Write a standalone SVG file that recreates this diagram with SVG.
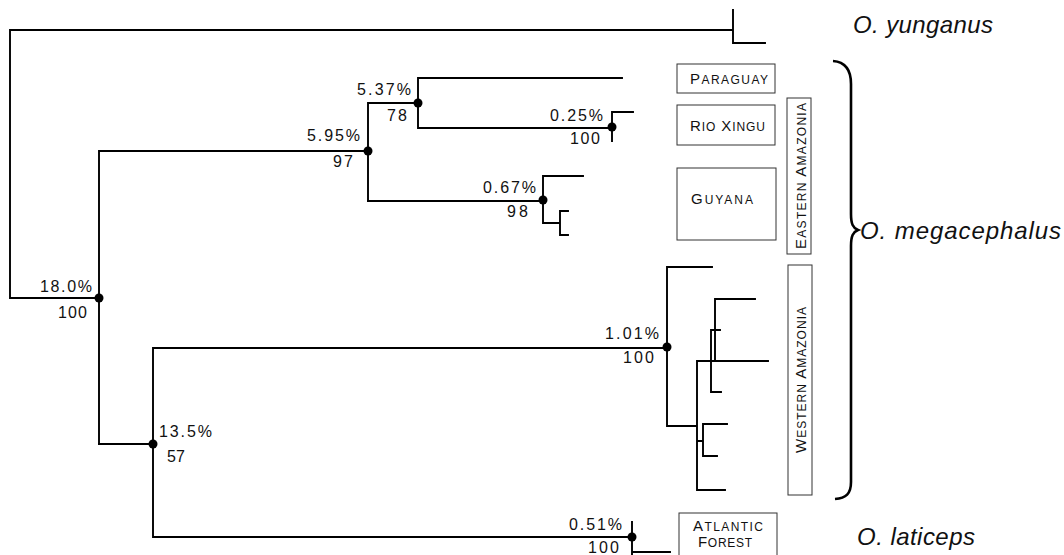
<svg xmlns="http://www.w3.org/2000/svg" width="1064" height="555" viewBox="0 0 1064 555">
<style>
.br{fill:none;stroke:#000;stroke-width:1.9;stroke-linecap:square}
.nd{fill:#000}
.num{font-family:"Liberation Sans",Arial,Helvetica,sans-serif;font-size:16px;fill:#111}
.box{fill:#fff;stroke:#333;stroke-width:1}
.lab{font-family:"Liberation Sans",Arial,Helvetica,sans-serif;font-size:15px;fill:#111}
.sc{font-size:12px}
.sp{font-family:"Liberation Sans",Arial,Helvetica,sans-serif;font-style:italic;font-size:24px;fill:#111}
</style>
<rect width="1064" height="555" fill="#fff"/>
<g id="connectors">
<path class="br" d="M733,30 H10 V298 H99 M733,10 V43 H765"/>
<path class="br" d="M99,151 V444 M99,151 H368 M368,103 V201 M368,103 H418 M418,78 V128 M418,78 H622 M418,128 H612 M612,112 V141 M612,112 H633"/>
<path class="br" d="M368,201 H543 M543,176 V223 M543,176 H583 M543,223 H560 M560,211 V235 M560,211 H568 M560,235 H568"/>
<path class="br" d="M99,444 H153 M153,348 V537 M153,348 H667 M153,537 H632 M632,522 V556 M632,552 H670"/>
<path class="br" d="M667,267 V426 M667,267 H712 M667,426 H697 M697,361 V490 M697,361 H768 M697,490 H725 M715,299 V361 M715,299 H755 M711,330 V392 M711,330 H720 M711,392 H721 M697,441 H703 M703,424 V456 M703,424 H727 M703,456 H717"/>
<path d="M833,61 C846,62 851,70 851,84 V214 C851,224 853,228 858,230 C853,232 851,236 851,246 V482 C851,494 846,498 835,499" fill="none" stroke="#000" stroke-width="2.6"/>
</g>
<g id="n-root"><circle class="nd" cx="99" cy="298" r="4.5"/><text class="num" x="40" y="292" textLength="52">18.0%</text><text class="num" x="58" y="318" textLength="29">100</text></g>
<g id="n-595"><circle class="nd" cx="368" cy="151" r="4.5"/><text class="num" x="307" y="141" textLength="53">5.95%</text><text class="num" x="333" y="167" textLength="20">97</text></g>
<g id="n-537"><circle class="nd" cx="418" cy="103" r="4.5"/><text class="num" x="357" y="95" textLength="54">5.37%</text><text class="num" x="387" y="121" textLength="20">78</text></g>
<g id="n-025"><circle class="nd" cx="612" cy="127" r="4.5"/><text class="num" x="550" y="121" textLength="53">0.25%</text><text class="num" x="570" y="144" textLength="30">100</text></g>
<g id="n-067"><circle class="nd" cx="543" cy="200" r="4.5"/><text class="num" x="483" y="193" textLength="53">0.67%</text><text class="num" x="507" y="217" textLength="21">98</text></g>
<g id="n-135"><circle class="nd" cx="153" cy="444" r="4.5"/><text class="num" x="159" y="437" textLength="53">13.5%</text><text class="num" x="167" y="462" textLength="18">57</text></g>
<g id="n-101"><circle class="nd" cx="667" cy="347" r="4.5"/><text class="num" x="605" y="339" textLength="54">1.01%</text><text class="num" x="623" y="363" textLength="31">100</text></g>
<g id="n-051"><circle class="nd" cx="632" cy="537" r="4.5"/><text class="num" x="569" y="530" textLength="53">0.51%</text><text class="num" x="588" y="553" textLength="31">100</text></g>
<g id="paraguay"><rect class="box" x="677" y="64" width="98" height="29"/><text class="lab" x="690" y="84" textLength="78">P<tspan class="sc">ARAGUAY</tspan></text></g>
<g id="rio-xingu"><rect class="box" x="677" y="105" width="98" height="40"/><text class="lab" x="690" y="131" textLength="75">R<tspan class="sc">IO</tspan> X<tspan class="sc">INGU</tspan></text></g>
<g id="guyana"><rect class="box" x="677" y="168" width="99" height="72"/><text class="lab" x="691" y="204" textLength="62">G<tspan class="sc">UYANA</tspan></text></g>
<g id="eastern-amazonia"><rect class="box" x="787" y="98" width="24" height="156"/><text class="lab" transform="translate(806,176) rotate(-90)" text-anchor="middle" textLength="146">E<tspan class="sc">ASTERN</tspan>  A<tspan class="sc">MAZONIA</tspan></text></g>
<g id="western-amazonia"><rect class="box" x="788" y="265" width="24" height="230"/><text class="lab" transform="translate(806,380) rotate(-90)" text-anchor="middle" textLength="146">W<tspan class="sc">ESTERN</tspan>  A<tspan class="sc">MAZONIA</tspan></text></g>
<g id="atlantic-forest"><rect class="box" x="679" y="513" width="98" height="50"/><text class="lab" x="693" y="531" textLength="70">A<tspan class="sc">TLANTIC</tspan></text><text class="lab" x="698" y="547" textLength="54">F<tspan class="sc">OREST</tspan></text></g>
<g id="sp-yunganus"><text class="sp" x="853" y="33" textLength="140">O. yunganus</text></g>
<g id="sp-megacephalus"><text class="sp" x="860" y="239" textLength="201">O. megacephalus</text></g>
<g id="sp-laticeps"><text class="sp" x="857" y="545" textLength="118">O. laticeps</text></g>
</svg>
